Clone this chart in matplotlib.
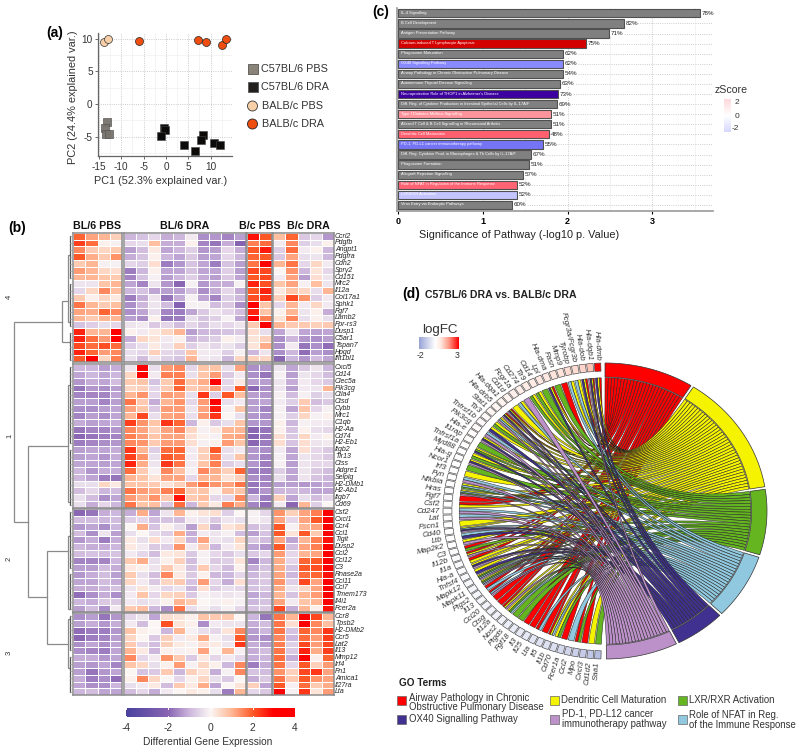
import numpy as np
import matplotlib
matplotlib.use('Agg')
import matplotlib.pyplot as plt
from matplotlib.colors import LinearSegmentedColormap
from matplotlib.patches import Rectangle, Circle, PathPatch
from matplotlib.path import Path

plt.rcParams['font.family'] = ['Liberation Sans', 'DejaVu Sans']
plt.rcParams['axes.unicode_minus'] = False

W, H = 800, 754

# panel a
pbs_bl6_x = [-13.3, -13.6, -13.5, -12.8]
pbs_bl6_y = [-2.7, -3.6, -4.65, -4.65]
dra_bl6_x = [-0.5, -0.15, -1.2, 4.1, 6.4, 8.3, 7.9, 10.8, 12.1]
dra_bl6_y = [-3.6, -4.0, -4.85, -6.3, -7.15, -4.75, -5.5, -5.9, -6.2]
pbs_balb_x = [-13.8, -13.05]
pbs_balb_y = [9.44, 9.9]
dra_balb_x = [-6.05, 7.15, 8.95, 12.45, 13.4]
dra_balb_y = [9.6, 9.7, 9.5, 9.0, 9.9]

# panel c
path_names = ['IL-4 Signalling', 'B Cell Development', 'Antigen Presentation Pathway',
              'Calcium-induced T Lymphocyte Apoptosis', 'Phagosome Maturation', 'OX40 Signalling Pathway',
              'Airway Pathology in Chronic Obstructive Pulmonary Disease', 'Autoimmune Thyroid Disease Signalling',
              "Neuroprotective Role of THOP1 in Alzheimer's Disease",
              'Diff. Reg. of Cytokine Production in Intestinal Epithelial Cells by IL-17A/F',
              'Type I Diabetes Mellitus Signalling', 'Altered T Cell & B Cell Signalling in Rheumatoid Arthritis',
              'Dendritic Cell Maturation', 'PD-1, PD-L1 cancer immunotherapy pathway',
              'Diff. Reg. Cytokine Prod. in Macrophages & Th Cells by IL-17A/F', 'Phagosome Formation',
              'Allograft Rejection Signalling', 'Role of NFAT in Regulation of the Immune Response',
              'LXR/RXR Activation', 'Virus Entry via Endocytic Pathways']
path_vals = [3.56, 2.66, 2.49, 2.22, 1.945, 1.945, 1.945, 1.913, 1.886, 1.874,
             1.80, 1.80, 1.783, 1.705, 1.563, 1.543, 1.472, 1.398, 1.398, 1.343]
path_pct = [78, 82, 71, 75, 62, 62, 54, 63, 73, 69, 51, 51, 48, 55, 67, 51, 57, 52, 52, 60]
path_cols = ['#808080', '#808080', '#808080', '#d40000', '#808080', '#8a8aff', '#808080', '#808080', '#3c00a0',
             '#808080', '#ff959c', '#808080', '#ff6070', '#7474f4', '#808080', '#808080', '#808080', '#ff6474',
             '#c4c4ff', '#808080']

# panel b
genes_4 = ['Ccrl2', 'Pdgfb', 'Angpt1', 'Pdgfra', 'Cdh2', 'Spry2', 'Cd151', 'Mrc2', 'Il12a', 'Col17a1', 'Sphk1',
           'Fgf7', 'Lamb2', 'Fpr-rs3', 'Dusp1', 'C5ar1', 'Tspan7', 'Hpgd', 'Ifit1bl1']
heat_4 = [
    [1.9, 1.2, 1.0, .6, -1.0, -.8, -.5, -1.1, -1.0, -.2, -1.5, -1.4, -1.6, -1.3, 2.8, 2.0, .9, 1.9, -.7, -.5, -1.4],
    [2.3, 1.8, .1, -.1, -.5, -.4, .9, -1.1, -1.1, .1, -1.6, -1.8, -1.1, -2.1, 1.6, 1.8, -.2, 1.5, -.6, -.4, .1],
    [1.5, .7, .5, .7, -1.3, -.9, .2, -1.2, -1.0, -.6, -1.4, -1.3, -.5, -1.1, 2.0, 2.7, -.6, 1.8, -.2, .1, -1.0],
    [2.0, 1.1, .7, 1.4, -1.1, -.8, .1, -1.0, -1.2, -.7, -1.3, -1.2, -.5, -1.0, 1.9, 2.0, -.7, 1.2, -.4, -.3, -1.0],
    [.7, 1.0, -.1, -.1, -.5, -.6, .4, -1.7, -1.4, -.8, -1.2, -1.7, -.8, -1.3, 1.7, 3.0, 1.0, 1.7, -.5, .5, -.2],
    [1.3, 1.0, .5, .4, -1.7, -1.0, .1, -1.2, -1.2, -.8, -1.2, -1.2, -.6, -1.3, 2.2, 2.2, .0, 1.4, -1.0, .3, -.5],
    [1.0, 1.0, .8, .7, -1.6, -.8, -.1, -1.3, -1.0, -.6, -1.1, -1.3, -.7, -1.2, 2.0, 2.2, -.2, 1.2, -1.3, .4, -.3],
    [-.3, -.3, .8, 1.0, -1.2, -1.6, -.3, -1.4, -2.0, -.1, -1.4, -1.1, -1.1, -.1, 2.6, 2.1, .8, 1.2, -.1, .9, -.3],
    [-.5, .5, 1.5, .9, -1.0, -.8, -1.2, -1.3, -1.3, -.8, -1.5, -1.1, -.5, -1.1, 2.0, 2.6, .2, .8, .5, -.4, 1.0],
    [.7, .1, .5, .2, -1.7, -1.1, -.3, -1.8, -1.1, -.1, -1.2, -1.6, -.6, -1.0, 2.1, 2.4, .6, 2.2, 1.4, -.6, -.2],
    [1.7, 1.0, .7, .9, -1.5, -1.0, -.3, -.9, -2.1, -.1, -.1, -.9, -.7, -1.5, 3.0, .8, -.5, 1.0, -.2, .5, -.2],
    [1.2, 1.1, 1.9, 1.5, -1.5, -1.2, -.4, -1.6, -1.7, -1.2, -.7, -.3, -.5, -.9, 2.6, .8, .1, 1.0, -.3, .1, -1.1],
    [1.0, .7, 1.0, 1.0, -1.3, -1.5, .1, -1.8, -1.7, -.4, -.8, -.6, -.1, -1.2, 3.0, 1.6, .3, 1.5, -.4, .1, -.4],
    [-.8, -.6, -.4, -.5, -.3, -.2, -.7, -.5, -.9, -.5, -.8, -.4, -.5, -.3, .7, 3.0, 1.0, .7, .7, .6, .7],
    [2.6, 1.0, 1.0, 3.0, .1, -.2, .2, .5, 1.0, -1.3, -1.0, -.9, -.8, -.7, .4, -.4, -1.2, -.3, -1.2, -1.3, -1.2],
    [2.6, 1.8, 1.3, 3.0, -1.1, .5, .3, -.2, .1, -1.0, -.8, -.6, .1, -.2, .3, .6, -1.5, -1.0, -1.4, -1.5, -1.3],
    [2.2, 1.8, 2.1, 1.8, -.6, -.4, .2, -.3, .6, -.6, -.3, -.5, -.3, -.6, .3, 1.1, -1.5, -.2, -1.8, -1.5, -1.9],
    [2.6, 1.9, 1.3, 1.5, -.4, -.5, .6, -.5, -.6, .8, -.2, -.2, -.6, -.1, -1.0, -.3, -1.5, -1.0, -1.9, -1.3, -1.5],
    [2.0, 3.0, .5, 1.6, -.4, -.9, -.3, -.6, -.8, 1.0, -.2, -.3, -1.0, .5, .6, .5, -2.0, -1.0, -1.4, -.9, -1.2],
]
genes_1 = ['Cxcl5', 'Cd14', 'Clec5a', 'Pik3cg', 'Ctla4', 'Ctsd', 'Cybb', 'Mrc1', 'C1qb', 'H2-Aa', 'Cd74', 'H2-Eb1',
           'Itgb2', 'Tlr13', 'Ctss', 'Adgre1', 'Selplg', 'H2-DMb1', 'H2-Ab1', 'Itgb7', 'Cd69']
heat_1 = [
    [-1.0, -1.0, -1.3, -1.1, -.3, 3, -.4, 1.3, 1.5, -.5, .8, .8, -.4, 1.2, -1.5, -1.4, -.3, -1.2, -.7, -.3, -1.0],
    [-1.2, -1.0, -1.2, -1.0, .5, 3, -.2, 1.6, 1.6, -.4, .8, 1.3, -.7, -.2, -1.5, -1.8, -.1, -1.3, -.3, -.5, -.9],
    [-1.4, -1.1, -1.2, -.9, .7, .8, -.8, .7, 1.8, .8, 1.1, 3, -.5, .2, -1.3, -1.3, -.3, -1.1, -.2, -.5, -.7],
    [-1.8, -1.4, -1.5, -1.3, .5, .6, -.5, .7, 1.9, .7, .9, 1.3, -.5, 2.0, -2.0, -1.5, -.3, -1.3, -.2, -.3, 1.0],
    [-1.6, -1.6, -1.6, -1.2, 1.0, 1.4, -.5, 1.3, 1.2, -.4, 2.4, -.6, 2.0, .9, -1.3, -1.4, -.1, -.9, -.1, -.6, -.4],
    [-1.3, -1.3, -1.6, -1.3, 1.7, .7, -1.1, 1.0, 1.4, -.5, 1.3, 3, -.4, -.2, -1.3, -1.2, -.2, -.6, .7, -.9, -.7],
    [-1.5, -1.5, -1.3, -1.2, 1.2, .8, -.7, 1.3, 1.3, -.3, 1.2, 2.7, -.1, .8, -1.3, -1.6, -.1, -1.2, .8, -.5, -.1],
    [-1.6, -1.3, -1.5, -1.2, 1.0, 2.2, -.4, 1.2, 1.3, -.4, 1.3, 2.4, .0, -.4, -1.4, -1.5, -.1, -.6, .5, -.1, .1],
    [-1.1, -1.3, -1.2, -1.1, 2.3, 1.4, .8, 2.4, 1.9, -1.0, .1, -.7, -.4, .8, -1.4, -1.4, .1, -1.0, -.1, -.2, -.2],
    [-1.8, -1.6, -1.6, -1.4, 1.5, 1.2, .6, 1.2, 1.5, .5, -.1, .2, 1.0, 1.0, -2.0, -1.8, .1, -.8, .1, -.4, -.5],
    [-2.0, -1.8, -1.7, -1.6, 1.6, 1.3, .8, 1.2, 1.2, .4, .1, -.1, 1.1, 1.2, -2.1, -1.8, .4, -.7, .5, -.2, .1],
    [-1.7, -1.6, -1.5, -1.4, 1.5, 1.4, .7, 1.3, 1.3, .4, -.1, .1, 1.3, .8, -2.0, -1.7, .4, -.8, .4, -.3, -.2],
    [-1.3, -1.2, -1.2, -1.1, 2.4, 1.0, -.6, 1.8, 1.9, -.2, .6, 2.0, -.4, -.2, -1.4, -1.5, -.2, -1.2, .4, -.5, -.7],
    [-1.3, -1.2, -1.4, -1.1, 2.3, 1.4, -.4, 2.0, 1.8, -.2, .6, 1.6, -.4, .8, -1.4, -1.6, -.1, -1.2, -.3, -.5, -.7],
    [-1.2, -1.2, -1.3, -1.2, 2.6, 1.1, -.3, 2.4, 1.7, -.2, .8, 1.6, -.6, -.4, -1.4, -1.7, -.1, -1.3, -.3, -.5, -.5],
    [-1.0, -1.4, -1.1, -1.1, 1.8, .7, -.1, 1.5, .9, -.1, 1.5, 1.1, .6, 1.9, -1.7, -1.7, -.6, -1.2, -.3, -.7, -.9],
    [-1.0, -1.2, -1.7, -1.8, 1.0, .8, .3, 1.2, 1.2, -.5, 1.0, 1.0, .3, .6, -1.5, -1.6, -.4, -1.2, -.3, -.8, -1.0],
    [-.4, -.4, .5, .2, .8, .8, .7, .3, .6, 1.3, 1.7, 1.4, 1.2, 1.7, -1.8, -1.6, -1.3, -1.3, -1.4, -1.3, -1.1],
    [-.9, -.5, -1.0, -.9, 1.7, 1.3, 1.1, 1.6, 1.9, .7, .8, .1, .9, .8, -1.7, -1.4, -1.0, -1.0, -1.0, -1.2, -1.2],
    [-.4, -.9, -1.5, -1.2, 1.3, 1.0, 1.4, .7, 2.8, .7, .9, -.5, -.5, 1.5, -1.0, -1.7, .6, -1.2, -.4, -.9, -.5],
    [-.4, -1.1, -.5, -1.0, 1.7, .8, .9, -.7, 1.8, -1.0, .7, .2, 1.6, 1.1, -1.6, -1.9, -.2, -2.0, 1.0, -.6, .0],
]
genes_2 = ['Csf2', 'Cxcl1', 'Ccr4', 'Ccl1', 'Tigit', 'Dusp2', 'Ccl2', 'Ccl12', 'C3', 'Rnase2a', 'Ccl11', 'Ccl7',
           'Tmem173', 'Il4i1', 'Fcer2a']
heat_2 = [
    [-2, -1.8, -1.1, -1.0, -1.1, 1.1, -1.2, -.3, 1.0, .1, .3, .4, -.6, .0, -.1, -.5, 1.4, .6, 1.2, 1.6, 3],
    [-.9, -.9, -1.0, -.9, -.6, -.5, -.9, -.8, -.9, -.2, -.3, -.7, -.3, -.4, -.1, -.3, 1.2, -.5, 1.2, 2.0, 3],
    [-1.4, -1.2, -1.5, -1.0, .0, 1.1, -.8, .1, -.4, -1.3, .5, -1.1, .3, .5, -.9, -.6, 2.0, -.1, 1.0, 1.2, 3],
    [-.9, -1.5, -.3, -1.3, -.4, .0, -.4, -.6, 1.1, -1.1, -.2, -.3, -.1, -.9, -1.3, -.8, 2.0, .3, 2.0, .7, 3],
    [-1.4, -1.1, -1.7, -1.1, .2, -.4, .4, -.2, .5, -1.0, 1.2, -.3, -.4, .5, -.7, -.9, 1.2, -1.2, 1.0, 1.6, 2.8],
    [-1.0, -1.1, -1.1, -1.0, .2, -.2, -.7, -.6, 1.4, -.2, .7, -1.0, -.2, .3, -1.2, -1.4, 2.0, -.9, 1.2, 1.6, 3],
    [-.9, -.8, -.9, -.8, -.2, -.5, -.9, .2, .3, -.7, -.1, -.5, -.7, -.4, -.7, -.5, 1.3, -.5, 1.0, 1.2, 3],
    [-1.6, -1.6, -1.6, -1.0, .7, 1.1, -.4, .1, .6, -.9, -.1, -.7, -.6, .3, -1.6, -1.0, 1.1, -.5, 1.9, 2.0, 3],
    [-1.3, -1.3, -.9, -1.1, .2, .1, -.3, .7, .2, -.8, .7, -.5, -.9, .1, -1.1, -.8, 1.1, -.8, 2.0, 2.1, 3],
    [-1.4, -1.1, -.9, -1.3, .7, -.4, -.9, 1.5, .2, -.7, .1, -1.0, -1.0, -.5, -1.0, -.7, 1.2, -1.0, 1.8, 1.9, 2.8],
    [-1.2, -1.2, -.9, -1.1, .5, -.2, -.7, .5, .7, -.8, 1.3, -.5, -1.1, .4, -.9, -.7, 1.4, -.6, 2.2, 1.2, 3],
    [-1.1, -1.1, -1.0, -.8, -.3, .3, -.2, -.5, -.3, -1.0, .4, -.6, -.4, -.5, -.8, -.7, 1.1, -.3, .5, 1.2, 3],
    [-1.9, -1.5, -1.1, -1.5, -.2, .8, -.5, .5, .6, -.7, -.1, -.2, -.3, -.2, -1.2, -1.0, 1.0, -.8, 1.0, 1.3, 3],
    [-1.0, -1.1, -.7, -.7, -.2, -.4, -.3, .1, 1.0, .7, .0, -.1, .1, -.1, -1.0, -.8, 1.2, -.2, .8, 1.0, 3],
    [-1.3, -.9, -1.5, -.2, .7, .9, -1.0, -1.5, 1.7, -.4, -.1, -.4, -.1, -.5, -.8, -.7, 2.2, -1.1, 1.0, .1, 2.8],
]
genes_3 = ['Ccr8', 'Tpsb2', 'H2-DMb2', 'Ccr5', 'Lat2', 'Il13', 'Mmp12', 'Irf4', 'Fn1', 'Amica1', 'Il27ra', 'Lta']
heat_3 = [
    [-1.5, -1.3, -1.8, -1.4, -.5, -.3, -1.2, .4, .3, .1, .8, .7, .7, .0, -1.0, -1.8, 1.7, 1.0, 3, 2.2, 1.0],
    [-1.3, -1.1, -1.4, -1.1, -.2, -.9, .0, 2.1, .3, .1, -1.5, -.2, -.3, -.3, -1.1, -.9, 1.7, .4, 3, 1.5, .9],
    [-1.9, -1.7, -1.7, -1.4, .8, .1, .0, -1.0, 1.0, -.1, -.4, -.5, .3, 1.5, -1.3, -1.0, 1.7, -.8, 1.9, 1.5, 2.4],
    [-2.0, -1.7, -1.6, -1.3, .5, .0, -.7, .6, -.2, .2, 1.1, -.1, -.4, 2.0, -1.4, -1.5, 1.5, -1.0, 1.8, 1.3, 2.3],
    [-1.5, -1.2, -1.5, -1.2, .7, -.5, -.9, .6, .2, -.1, .4, .2, -.3, 2.4, -1.1, -1.3, 1.6, -.6, 2.2, 1.3, 2.2],
    [-1.5, -1.6, -1.7, -1.2, 1.0, .2, -1.0, .1, -.1, .1, 1.2, .0, 1.0, -.1, -1.1, -.9, 1.7, -.7, 2.6, 1.1, 2.3],
    [-1.1, -1.1, -1.4, -1.2, 1.5, -.5, -.2, 1.4, .7, -.7, .2, -.5, -.2, -.5, -1.1, -1.0, 1.8, -1.1, 3, .1, 1.9],
    [-1.3, -1.4, -1.2, -1.6, .8, .5, -.4, .1, 1.3, -.1, .5, .1, -1.0, 1.5, -1.7, -1.1, 1.7, -.5, 2.0, .6, 1.3],
    [-1.3, -1.8, -1.4, -1.2, .0, -.8, -.7, .7, -1.0, .6, .3, -1.1, -.1, 1.5, -.8, -.9, 1.4, .6, 2.2, 2.4, 1.2],
    [-1.1, -1.7, -1.5, -1.9, .1, 1.5, .5, .0, -.5, .1, .5, -.4, -.7, .0, -1.1, -.7, 1.7, .7, 2.0, 1.4, 1.2],
    [-1.2, -1.5, -1.5, -1.0, -.4, -.2, .2, -.9, .7, .2, 1.1, -1.2, .0, .3, .6, -1.2, 2.0, -.1, 1.8, .7, 1.1],
    [-1.0, -.9, -1.2, -1.2, -.9, -.5, -1.1, -.2, .0, .2, .1, -.4, -1.7, 1.0, -.5, -.7, 3, -.1, 2.4, .3, 1.3],
]
col_groups = ['BL/6 PBS', 'BL/6 DRA', 'B/c PBS', 'B/c DRA']

# dendrogram merges: height, row of top child, row of bottom child, height top child, height bottom child
merges = [(59.3, 12.9, 41.9, 11.3, 45.6), (11.3, 9.85, 15.8, 5, 3), (45.6, 30.9, 52.8, 5, 26.6),
          (26.6, 46.06, 59.5, 5, 5), (5, 3.3, 13.0, 3, 3), (5, 22, 39, 3, 3), (5, 44, 54.5, 3, 3), (5, 56, 63, 3, 3)]
# leaf groups: first row, last row, height
leaf_groups = [(0, 6, 3), (7, 13, 3), (14, 18, 3), (19, 30, 3), (31, 39, 3), (40, 48, 3), (49, 54, 3), (55, 60, 3),
               (61, 66, 3)]

# panel d
go_terms = ['R', 'Y', 'G', 'B', 'N', 'P']
go_cols = {'R': '#ff0000', 'Y': '#f6f300', 'G': '#64b51f', 'B': '#90c9df', 'N': '#40308f', 'P': '#bc90c8'}
chord_genes = ['Hla-dmb', 'Hla-dqb1', 'Hla-dob', 'Fcgr3a/Fcgr3b', 'Tyrobp', 'Mmp9', 'Fasn', 'Hla-dma', 'Lpl', 'Cd14',
               'Tlr9', 'Cd274', 'Fcgr1a', 'Cd1d', 'Hla-dqa1', 'Hla-drb5', 'Stat1', 'Tlr3', 'Tnfrsf1b', 'Pik3cg',
               'Hla-e', 'Il1rap', 'Tnfrsf1a', 'Myd88', 'Hla-g', 'Ncor1', 'Irf3', 'Fyn', 'Nfkbia', 'Hras', 'Fgf7',
               'Csf2', 'Cd247', 'Lat', 'Fscn1', 'Cd40', 'Ltb', 'Map2k2', 'C3', 'Il12b', 'Il1a', 'Hla-a', 'Tnfsf4',
               'Mapk12', 'Mapk11', 'Ptgs2', 'Il13', 'Ccl20', 'Ctsg', 'Il12a', 'Nos2', 'Ptgds', 'Fgf18', 'Il3', 'Il25',
               'Lta', 'Il5', 'Il1b', 'Cd70', 'Fcer1a', 'Ccl2', 'Mpo', 'Cxcl3', 'Cd1d2', 'Saa1']
chord_terms = ['RYN', 'RYNP', 'RYN', 'YB', 'YB', 'R', 'G', 'RYN', 'G', 'YG',
               'YG', 'P', 'YB', 'Y', 'RYNP', 'RYNP', 'YBP', 'YG', 'YN', 'BP',
               'YNP', 'G', 'YGN', 'YG', 'YNP', 'G', 'Y', 'BP', 'YBG', 'YBGP', 'R',
               'RY', 'BP', 'BP', 'Y', 'YBNP', 'BN', 'YP', 'RG', 'RYP', 'RY', 'YNP', 'YN',
               'YGBP', 'YGBP', 'RB', 'RBP', 'R', 'R', 'RYP', 'YGB', 'G', 'G', 'R', 'R',
               'RB', 'R', 'RYB', 'YG', 'R', 'B', 'RG', 'R', 'Y', 'G']
chord_fc = [3, 1.2, 1.0, .9, .9, .8, .8, .7, .7, .6, .6, .5, .5, .4, .4, .3, .3, .2, .15, .1,
            .1, .05, .05, 0, 0, 0, 0, 0, 0, 0, 0, 0, 0, 0, 0, 0, 0, 0, -.05, -.1, -.1, -.1, -.15, -.15,
            -.2, -.2, -.2, -.25, -.25, -.3, -.3, -.35, -.4, -.45, -.5, -.55, -.6, -.65, -.7, -.8, -.9, -1.0,
            -1.1, -1.2, -1.4]

fig = plt.figure(figsize=(W / 100, H / 100), dpi=100, facecolor='white')


def ax_px(l, t, r, b, **kw):
    return fig.add_axes([l / W, 1 - b / H, (r - l) / W, (b - t) / H], **kw)


over = fig.add_axes([0, 0, 1, 1], zorder=10)
over.set_xlim(0, W)
over.set_ylim(H, 0)
over.axis('off')
over.patch.set_alpha(0)


def txt(x, y, s, size=7, **kw):
    kw.setdefault('va', 'center')
    kw.setdefault('color', '#222222')
    over.text(x, y, s, fontsize=size, **kw)


# ---- (a) PCA
ax = ax_px(98.3, 33.3, 232.3, 156)
ax.set_xlim(-15.15, 14.85)
ax.set_ylim(-7.95, 10.8)
ax.set_xticks([-15, -10, -5, 0, 5, 10])
ax.set_yticks([-5, 0, 5, 10])
ax.set_xticks([-12.5, -7.5, -2.5, 2.5, 7.5, 12.5], minor=True)
ax.set_yticks([-7.5, -2.5, 2.5, 7.5], minor=True)
ax.grid(True, which='major', ls=':', lw=.6, color='#bbbbbb')
ax.grid(True, which='minor', ls='-', lw=.5, color='#f0f0f0')
ax.set_axisbelow(True)
ax.tick_params(which='minor', length=0)
ax.tick_params(which='major', labelsize=7.2, length=2, width=.6, pad=2, labelcolor='#333333', color='#555555')
for s in ['top', 'right']:
    ax.spines[s].set_visible(False)
for s in ['left', 'bottom']:
    ax.spines[s].set_color('#666666')
    ax.spines[s].set_linewidth(.9)
ax.scatter(pbs_bl6_x, pbs_bl6_y, marker='s', s=30, c='#77726c', edgecolors='#555555', linewidths=.5, alpha=.95,
           clip_on=False, zorder=3)
ax.scatter(dra_bl6_x, dra_bl6_y, marker='s', s=30, c='#0d0b0a', edgecolors='#444444', linewidths=.4, zorder=3)
ax.scatter(pbs_balb_x, pbs_balb_y, s=33, c='#f8d0a8', edgecolors='#333333', linewidths=.5, zorder=3)
ax.scatter(dra_balb_x, dra_balb_y, s=33, c='#f04e10', edgecolors='#222222', linewidths=.5, zorder=3, clip_on=False)
txt(161, 181, 'PC1 (52.3% explained var.)', 7.8, ha='center', color='#333333')
txt(73, 97, 'PC2 (24.4% explained var.)', 7.9, ha='center', rotation=90, color='#333333')
txt(46, 33, '(a)', 10, fontweight='bold', color='black')
leg_y = [69, 87, 106, 124]
leg_names = ['C57BL/6 PBS', 'C57BL/6 DRA', 'BALB/c PBS', 'BALB/c DRA']
over.add_patch(Rectangle((247.5, leg_y[0] - 5), 10, 10, fc='#8a8378', ec='#555555', lw=.6))
over.add_patch(Rectangle((247.5, leg_y[1] - 5), 10, 10, fc='#231f1c', ec='#555555', lw=.6))
over.add_patch(Circle((252.5, leg_y[2]), 5, fc='#f8d0a8', ec='#333333', lw=.6))
over.add_patch(Circle((252.5, leg_y[3]), 5, fc='#f04e10', ec='#222222', lw=.6))
for yy, nm, xx in zip(leg_y, leg_names, [261, 261, 262, 262]):
    txt(xx, yy, nm, 7.8, color='#333333')

# ---- (c) pathways
ax = ax_px(397, 8, 713, 211)
ypos = np.arange(len(path_vals))
ax.barh(ypos, path_vals, height=.82, color=path_cols, edgecolor='#505050', linewidth=.8, zorder=3)
ax.set_xlim(-.015, 3.715)
ax.set_ylim(19.6, -.53)
ax.set_yticks(ypos)
ax.tick_params(axis='y', length=0, labelleft=False)
ax.set_xticks([0, 1, 2, 3])
ax.set_xticks([.5, 1.5, 2.5, 3.5], minor=True)
ax.tick_params(axis='x', which='minor', length=0)
ax.tick_params(axis='x', which='major', length=2, width=.8, labelsize=6.5, pad=2)
for t in ax.get_xticklabels():
    t.set_fontweight('bold')
ax.grid(True, axis='both', which='major', ls=':', lw=.6, color='#bdbdbd')
ax.grid(True, axis='x', which='minor', ls=':', lw=.5, color='#d5d5d5')
ax.set_axisbelow(True)
for s in ['top', 'right']:
    ax.spines[s].set_visible(False)
for s in ['left', 'bottom']:
    ax.spines[s].set_color('#9a9a9a')
    ax.spines[s].set_linewidth(1.2)
for i, (nm, v, p) in enumerate(zip(path_names, path_vals, path_pct)):
    ax.text(.03, i - .05, nm, fontsize=2.85, color='white', va='center', zorder=5)
    ax.text(v + .02, i, f'{p}%', fontsize=4.5, color='#222222', va='center', zorder=5,
            bbox=dict(fc='white', ec='none', pad=.3))
txt(519, 235, 'Significance of Pathway (-log10 p. Value)', 7.8, ha='center', color='#222222')
txt(372, 12, '(c)', 10, fontweight='bold', color='black')

txt(715, 90, 'zScore', 7.6, color='#333333')
z_cmap = LinearSegmentedColormap.from_list('z', ['#d8d8ff', '#ffffff', '#ffd8dc'])
cax = ax_px(724, 99, 731, 132)
cax.imshow(np.linspace(1, 0, 64)[:, None], aspect='auto', cmap=z_cmap)
cax.axis('off')
txt(735, 102, '2', 6, color='#333333')
txt(735, 116, '0', 6, color='#333333')
txt(732, 129, '-2', 6, color='#333333')

# ---- (b) heatmap
heat_cmap = LinearSegmentedColormap.from_list('h', [(0, '#4a429e'), (.25, '#8a65b3'), (.375, '#cdb6dc'), (.5, '#fbf7f5'),
                                                    (.625, '#ffb896'), (.75, '#ff5a28'), (.875, '#ff0000'),
                                                    (1, '#ff0000')])
col_x = [(73.3, 122), (123.7, 245.7), (247, 271.7), (273.3, 334)]
col_slices = [(0, 4), (4, 14), (14, 16), (16, 21)]
col_label_x = [97, 185, 260, 308.7]
row_y = [(232.7, 362.3), (364, 508), (509, 612), (613.3, 695.3)]
blocks = [heat_4, heat_1, heat_2, heat_3]
names = [genes_4, genes_1, genes_2, genes_3]
for (t, b), data, gn in zip(row_y, blocks, names):
    arr = np.array(data)
    for (l, r), (c0, c1) in zip(col_x, col_slices):
        a = ax_px(l, t, r, b)
        a.pcolormesh(arr[:, c0:c1], cmap=heat_cmap, vmin=-4, vmax=4, edgecolors='white', linewidth=.45)
        a.invert_yaxis()
        a.set_xticks([])
        a.set_yticks([])
        for s in a.spines.values():
            s.set_color('#8c8c8c')
            s.set_linewidth(1.1)
    rh = (b - t) / len(gn)
    for i, g in enumerate(gn):
        txt(335, t + rh * (i + .5), g, 5.0, style='italic', color='#222222')
for xx, nm in zip(col_label_x, col_groups):
    txt(xx, 226, nm, 7.7, fontweight='bold', ha='center', color='#111111')
txt(8, 228, '(b)', 10, fontweight='bold', color='black')
for yy, c in zip([297, 436, 559, 653], ['4', '1', '2', '3']):
    txt(9.5, yy, c, 5.5, rotation=90, ha='center', color='#333333')

tree = ax_px(0, 232.7, 73.3, 695.3)
tree.set_xlim(73.3, 0)
tree.set_ylim(67, 0)
tree.axis('off')
for h, r0, r1, h0, h1 in merges:
    tree.plot([h0, h, h, h1], [r0, r0, r1, r1], color='#8a8a8a', lw=.9, solid_joinstyle='miter')
for r0, r1, h in leaf_groups:
    tree.plot([h, h], [r0 + .5, r1 + .5], color='#555555', lw=.9)
    for r in range(r0, r1 + 1):
        tree.plot([h, .4], [r + .5, r + .5], color='#9a9a9a', lw=.5)

cb = ax_px(126, 708, 295, 717)
cb.imshow(np.linspace(-4, 4, 256)[None, :], aspect='auto', cmap=heat_cmap, vmin=-4, vmax=4, extent=[-4, 4, 0, 1])
cb.set_yticks([])
cb.set_xticks([-4, -2, 0, 2, 4])
cb.set_xticklabels(['-4', '-2', '0', '2', '4'], fontsize=7.4, color='#333333')
cb.tick_params(axis='x', length=0, pad=4)
for v in [-4, -2, 0, 2, 4]:
    cb.plot([v, v], [0, .15], color='white', lw=.7)
    cb.plot([v, v], [.85, 1], color='white', lw=.7)
for s in cb.spines.values():
    s.set_visible(False)
txt(207.5, 741.7, 'Differential Gene Expression', 7.3, ha='center', color='#333333')

# ---- (d) chord
rx, ry = 162, 148
cx, cy = 605, 511
ch = ax_px(cx - 1.3 * rx, cy - 1.3 * ry, cx + 1.3 * rx, cy + 1.3 * ry, zorder=2)
ch.set_xlim(-1.3, 1.3)
ch.set_ylim(-1.3, 1.3)
ch.axis('off')
ch.patch.set_alpha(0)


def pt(theta, r):
    return r * np.cos(np.radians(theta)), r * np.sin(np.radians(theta))


def arc(t0, t1, r, n=8):
    return [pt(t, r) for t in np.linspace(t0, t1, n)]


R_OUT, R_BAND, R_RIB = 1.0, .905, .9
n_genes = len(chord_genes)
g_step = 177.5 / n_genes
fc_cmap = LinearSegmentedColormap.from_list('fc', [(0, '#98a3d6'), (.4, '#ffffff'), (.55, '#ffe8e0'), (.75, '#ff9a86'),
                                                   (1, '#ff0000')])
# gene slots
gene_slots = {}
for i, (g, terms, fc) in enumerate(zip(chord_genes, chord_terms, chord_fc)):
    t_top = 91.5 + i * g_step
    t_bot = t_top + g_step * .84
    box = arc(t_top, t_bot, 1.0, 4) + arc(t_bot, t_top, .945, 4)
    ch.add_patch(plt.Polygon(box, closed=True, fc=fc_cmap((fc + 2) / 5), ec='#444444', lw=.45))
    w = (t_bot - t_top) / len(terms)
    for k, tm in enumerate(terms):
        gene_slots[(i, tm)] = (t_top + k * w, t_top + (k + 1) * w)
    # label, radial: angle in screen space because the circle is stretched
    tm = (t_top + t_bot) / 2
    x, y = pt(tm, 1.02)
    scr = np.degrees(np.arctan2(np.sin(np.radians(tm)) * ry, np.cos(np.radians(tm)) * rx))
    ch.text(x, y, g, fontsize=5.7, style='italic', color='#333333', rotation=scr - 180, rotation_mode='anchor',
            ha='right', va='center', clip_on=False)

# term sectors and ribbons
counts = [sum(tm in t for t in chord_terms) for tm in go_terms]
gap = 1.0
unit = (179.5 - gap * (len(go_terms) - 1)) / sum(counts)
start = 90.0
for tm, c in zip(go_terms, counts):
    end = start - c * unit
    band = arc(start, end, R_OUT, 30) + arc(end, start, R_BAND, 30)
    ch.add_patch(plt.Polygon(band, closed=True, fc=go_cols[tm], ec='#333333', lw=.5, zorder=4))
    j = 0
    for i in range(n_genes):
        if tm not in chord_terms[i]:
            continue
        a0, a1 = gene_slots[(i, tm)]
        b0 = start - j * unit
        b1 = b0 - unit
        verts = arc(a0, a1, R_RIB, 3)
        codes = [Path.MOVETO, Path.LINETO, Path.LINETO]
        verts += [(0, 0), pt(b1, R_RIB)]
        codes += [Path.CURVE3, Path.CURVE3]
        verts += [pt(b0, R_RIB)]
        codes += [Path.LINETO]
        verts += [(0, 0), pt(a0, R_RIB)]
        codes += [Path.CURVE3, Path.CURVE3]
        ch.add_patch(PathPatch(Path(verts, codes), fc=go_cols[tm], ec='#222222', lw=.35, zorder=3))
        j += 1
    start = end - gap

txt(402, 294, '(d)', 10, fontweight='bold', color='black')
txt(425, 295, 'C57BL/6 DRA vs. BALB/c DRA', 7.6, fontweight='bold', color='#222222')
txt(422, 330, 'logFC', 9.6, color='#333333')
fc_ax = ax_px(419, 337, 459, 349)
fc_ax.imshow(np.linspace(0, 1, 128)[None, :], aspect='auto', cmap=fc_cmap)
fc_ax.axis('off')
txt(420, 355, '-2', 6.3, ha='center', color='#333333')
txt(457, 355, '3', 6.3, ha='center', color='#333333')

# GO legend
txt(399, 683, 'GO Terms', 7.2, fontweight='bold', color='#222222')
go_leg = [(397, 696, 'R', 409, ['Airway Pathology in Chronic', 'Obstructive Pulmonary Disease'], [698, 707]),
          (397, 714.5, 'N', 409, ['OX40 Signalling Pathway'], [719]),
          (550, 696, 'Y', 561, ['Dendritic Cell Maturation'], [700]),
          (550, 714.5, 'P', 562, ['PD-1, PD-L12 cancer', 'immunotherapy pathway'], [714, 724]),
          (678, 696, 'G', 689, ['LXR/RXR Activation'], [700]),
          (678, 714.5, 'B', 689, ['Role of NFAT in Reg.', 'of the Immune Response'], [715, 725])]
for bx, by, tm, tx, lines, ys in go_leg:
    over.add_patch(Rectangle((bx, by), 9, 9, fc=go_cols[tm], ec='#666666', lw=.5))
    for s, yy in zip(lines, ys):
        txt(tx, yy, s, 6.9, color='#333333')

fig.savefig('out.png', dpi=100)
